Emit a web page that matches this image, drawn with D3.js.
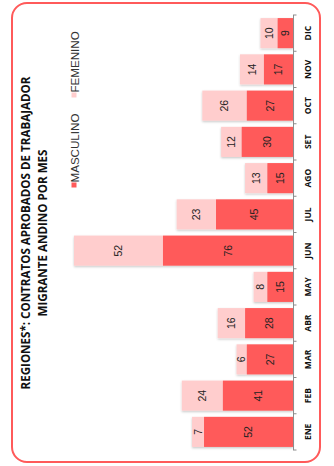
<!DOCTYPE html>
<html>
<head>
<meta charset="utf-8">
<script src="https://cdn.jsdelivr.net/npm/d3@7"></script>
<style>
  body { margin: 0; background: #fff; }
</style>
</head>
<body>
<div id="container"></div>
<script>
// chart is drawn as a normal column chart, then the whole group is turned -90deg

const months = ["ENE","FEB","MAR","ABR","MAY","JUN","JUL","AGO","SET","OCT","NOV","DIC"];
const masculino = [52, 41, 27, 28, 15, 76, 45, 15, 30, 27, 17, 9];
const femenino  = [7, 24, 6, 16, 8, 52, 23, 13, 12, 26, 14, 10];
const seriesNames = ["MASCULINO", "FEMENINO"];
const titleLines = ["REGIONES*: CONTRATOS APROBADOS DE TRABAJADOR", "MIGRANTE ANDINO POR MES"];

const W = 334, H = 466;
const colMasc = "#ff5a5a", colFem = "#ffcdcd";

const svg = d3.select("#container")
  .append("svg")
    .attr("width", W)
    .attr("height", H);

// soft shadow under the bars
const defs = svg.append("defs");
const f = defs.append("filter").attr("id", "shade")
  .attr("x", "-20%").attr("y", "-20%").attr("width", "140%").attr("height", "140%");
f.append("feDropShadow")
  .attr("dx", -1.2).attr("dy", 0)
  .attr("stdDeviation", 0.8)
  .attr("flood-color", "#000")
  .attr("flood-opacity", 0.22);

// frame
svg.append("rect")
  .attr("x", 12).attr("y", 3)
  .attr("width", 308).attr("height", 459)
  .attr("rx", 15)
  .attr("fill", "none")
  .attr("stroke", "#ff5a5a")
  .attr("stroke-width", 2);

// rotated group: (u,v) -> screen (v, H-u)
const g = svg.append("g")
  .attr("transform", `translate(0,${H}) rotate(-90)`);

const data = months.map((m, i) => ({month: m, masc: masculino[i], fem: femenino[i]}));

const x = d3.scaleBand()
  .domain(months)
  .range([16, 451])
  .paddingInner(0.17)
  .paddingOuter(0.085);

const base = 293;
const y = d3.scaleLinear()
  .domain([0, 128])
  .range([base, 74]);

// bars
const bars = g.append("g").attr("filter", "url(#shade)");
bars.selectAll("rect.fem")
  .data(data)
  .join("rect")
    .attr("class", "fem")
    .attr("x", d => x(d.month))
    .attr("width", x.bandwidth())
    .attr("y", d => y(d.masc + d.fem))
    .attr("height", d => y(d.masc) - y(d.masc + d.fem))
    .attr("fill", colFem);
bars.selectAll("rect.masc")
  .data(data)
  .join("rect")
    .attr("class", "masc")
    .attr("x", d => x(d.month))
    .attr("width", x.bandwidth())
    .attr("y", d => y(d.masc))
    .attr("height", d => base - y(d.masc))
    .attr("fill", colMasc);

// value labels
const lab = g.append("g")
  .attr("font-family", "'Liberation Sans', Arial, sans-serif")
  .attr("font-size", "10.5px")
  .attr("fill", "#222")
  .attr("text-anchor", "middle");
lab.selectAll("text.m")
  .data(data)
  .join("text")
    .attr("x", d => x(d.month) + x.bandwidth() / 2)
    .attr("y", d => (base + y(d.masc)) / 2)
    .attr("dy", "0.35em")
    .text(d => d.masc);
lab.selectAll("text.f")
  .data(data)
  .join("text")
    .attr("x", d => x(d.month) + x.bandwidth() / 2)
    .attr("y", d => (y(d.masc) + y(d.masc + d.fem)) / 2)
    .attr("dy", "0.35em")
    .text(d => d.fem);

// axis line with ticks at band boundaries
const step = x.step();
const x0 = x.range()[0];
const axis = g.append("g").attr("stroke", "#8c8c8c").attr("stroke-width", 1);
axis.append("line")
  .attr("x1", x0).attr("x2", x0 + step * months.length)
  .attr("y1", base + 0.5).attr("y2", base + 0.5);
axis.selectAll("line.tk")
  .data(d3.range(months.length + 1))
  .join("line")
    .attr("class", "tk")
    .attr("x1", i => x0 + i * step).attr("x2", i => x0 + i * step)
    .attr("y1", base).attr("y2", base + 3.5);

g.append("g")
  .attr("font-family", "'Open Sans', sans-serif")
  .attr("font-weight", "bold")
  .attr("font-size", "8.5px")
  .attr("fill", "#111")
  .attr("text-anchor", "middle")
  .selectAll("text")
  .data(months)
  .join("text")
    .attr("x", d => x(d) + x.bandwidth() / 2)
    .attr("y", 311)
    .text(d => d);

// title
g.append("g")
  .attr("font-family", "'Open Sans', sans-serif")
  .attr("font-weight", "bold")
  .attr("font-size", "11.6px")
  .attr("fill", "#111")
  .attr("text-anchor", "middle")
  .selectAll("text")
  .data(titleLines)
  .join("text")
    .attr("x", 233)
    .attr("y", (d, i) => 29.5 + i * 17)
    .text(d => d);

// legend
const legX = [281, 371];
const leg = g.append("g")
  .attr("font-family", "'Liberation Sans', Arial, sans-serif")
  .attr("font-size", "11.6px")
  .attr("fill", "#333");
leg.selectAll("rect")
  .data(seriesNames)
  .join("rect")
    .attr("x", (d, i) => legX[i] - 2.5)
    .attr("y", 71.5)
    .attr("width", 5).attr("height", 5)
    .attr("fill", (d, i) => i === 0 ? colMasc : colFem);
leg.selectAll("text")
  .data(seriesNames)
  .join("text")
    .attr("x", (d, i) => legX[i] + 2.5)
    .attr("y", 78.5)
    .text(d => d);
</script>
</body>
</html>
